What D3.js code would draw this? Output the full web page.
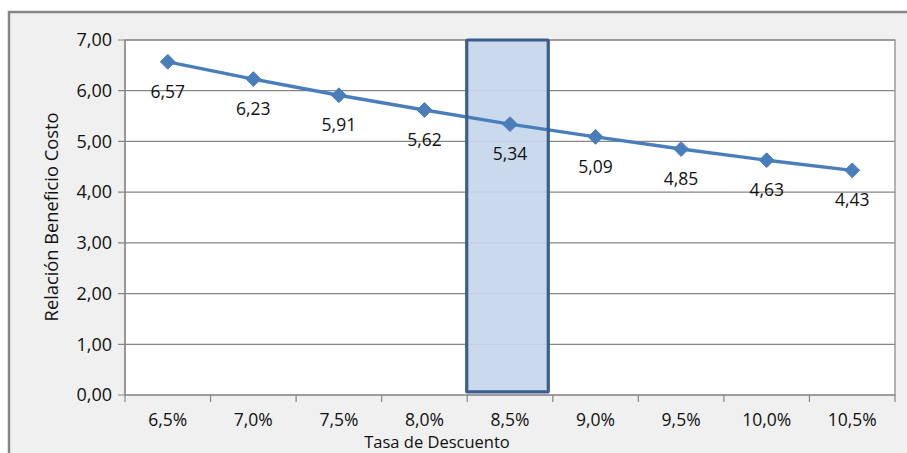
<!DOCTYPE html>
<html><head><meta charset="utf-8">
<script src="https://cdn.jsdelivr.net/npm/d3@7"></script>
<style>html,body{margin:0;padding:0;background:#fff;}svg{display:block;font-family:"Open Sans",sans-serif;}</style>
</head><body>
<svg id="chart" width="907" height="453"></svg>
<script>
const categories = ["6,5%","7,0%","7,5%","8,0%","8,5%","9,0%","9,5%","10,0%","10,5%"];
const values = [6.57,6.23,5.91,5.62,5.34,5.09,4.85,4.63,4.43];
const valueLabels = ["6,57","6,23","5,91","5,62","5,34","5,09","4,85","4,63","4,43"];
const yTicks = [0,1,2,3,4,5,6,7];
const yTickLabels = ["0,00","1,00","2,00","3,00","4,00","5,00","6,00","7,00"];
const highlighted = ["8,5%"];

const svg = d3.select("#chart");
const m = {left:125, right:895, top:40, bottom:395};

// outer chart area
svg.append("rect").attr("x",9).attr("y",12).attr("width",910).attr("height",460)
  .attr("fill","#f0f0f0").attr("stroke","#868686").attr("stroke-width",2.5);

const x = d3.scaleBand().domain(categories).range([m.left,m.right]).padding(0);
const y = d3.scaleLinear().domain([0,7]).range([m.bottom,m.top]);

// plot area
svg.append("rect").attr("x",m.left).attr("y",m.top).attr("width",m.right-m.left).attr("height",m.bottom-m.top)
  .attr("fill","#ffffff").attr("stroke","#868686").attr("stroke-width",1.2);

// gridlines
svg.append("g").selectAll("line").data(yTicks).join("line")
  .attr("x1",m.left-7).attr("x2",m.right).attr("y1",d=>y(d)).attr("y2",d=>y(d))
  .attr("stroke","#868686").attr("stroke-width",1.2);

// y axis line
svg.append("line").attr("x1",m.left).attr("x2",m.left).attr("y1",m.top).attr("y2",m.bottom)
  .attr("stroke","#868686").attr("stroke-width",1.2);

// y tick labels
svg.append("g").selectAll("text").data(yTicks).join("text")
  .attr("x",m.left-13).attr("y",d=>y(d)).attr("dy","0.35em").attr("text-anchor","end")
  .attr("font-size",18).attr("fill","#111").text((d,i)=>yTickLabels[i]);

// x tick marks at band boundaries
const bounds = categories.map(c=>x(c)).concat([x(categories[categories.length-1])+x.bandwidth()]);
svg.append("g").selectAll("line").data(bounds).join("line")
  .attr("x1",d=>d).attr("x2",d=>d).attr("y1",m.bottom).attr("y2",m.bottom+7)
  .attr("stroke","#868686").attr("stroke-width",1.2);

// x labels
svg.append("g").selectAll("text").data(categories).join("text")
  .attr("x",d=>x(d)+x.bandwidth()/2).attr("y",419.5).attr("dy","0.35em").attr("text-anchor","middle")
  .attr("font-size",17.5).attr("fill","#111").text(d=>d);

// highlight rect
svg.append("g").selectAll("rect").data(highlighted).join("rect")
  .attr("x",d=>x(d)-0.5).attr("width",x.bandwidth()-4)
  .attr("y",y(7)).attr("height",y(0.06)-y(7))
  .attr("fill","#c6d6ea").attr("fill-opacity",0.92);

// line
const cx = d=>x(d)+x.bandwidth()/2;
const line = d3.line().x((d,i)=>cx(categories[i])).y(d=>y(d));
svg.append("path").datum(values).attr("d",line).attr("fill","none")
  .attr("stroke","#4a7ebb").attr("stroke-width",3.4).attr("stroke-linejoin","round");

// highlight border on top
svg.append("g").selectAll("rect").data(highlighted).join("rect")
  .attr("x",d=>x(d)-0.5).attr("width",x.bandwidth()-4)
  .attr("y",y(7)).attr("height",y(0.06)-y(7))
  .attr("fill","none").attr("stroke","#3a5f8e").attr("stroke-width",3.2).attr("rx",1);

// markers
const diamond = d3.symbol().type(d3.symbolDiamond2).size(140);
svg.append("g").selectAll("path").data(values).join("path")
  .attr("d",diamond).attr("transform",(d,i)=>`translate(${cx(categories[i])},${y(d)})`)
  .attr("fill","#4a7ebb").attr("stroke","#4a7ebb").attr("stroke-width",1);

// value labels
svg.append("g").selectAll("text").data(values).join("text")
  .attr("x",(d,i)=>cx(categories[i])).attr("y",d=>y(d)+30).attr("dy","0.35em")
  .attr("text-anchor","middle").attr("font-size",17.5).attr("fill","#111")
  .text((d,i)=>valueLabels[i]);

// axis titles
svg.append("text").attr("x",437).attr("y",442).attr("dy","0.35em").attr("text-anchor","middle")
  .attr("font-size",16.5).attr("fill","#111").text("Tasa de Descuento");
svg.append("text").attr("transform","translate(52,217) rotate(-90)").attr("dy","0.35em")
  .attr("text-anchor","middle").attr("font-size",18.3).attr("fill","#111").text("Relación Beneficio Costo");
</script>
</body></html>
